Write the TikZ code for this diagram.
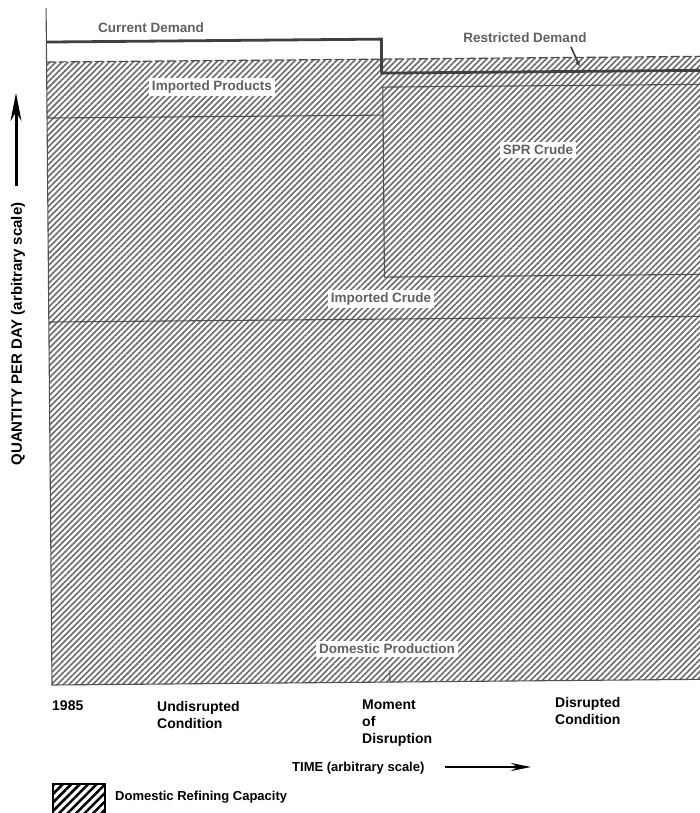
\documentclass[tikz,border=0pt]{standalone}
\usepackage{fontspec}
\setmainfont{Liberation Sans}
\usetikzlibrary{patterns.meta,arrows.meta}
\begin{document}
\begin{tikzpicture}[x=1pt,y=-1pt,
  lbl/.style={font=\bfseries\fontsize{13.5}{16}\selectfont, text=black!62, inner sep=3pt},
  inlbl/.style={lbl, fill=white},
  axlbl/.style={font=\bfseries\fontsize{14}{17}\selectfont, align=left, anchor=north west, inner sep=0pt},
  smlbl/.style={font=\bfseries\fontsize{13}{16}\selectfont, anchor=west, inner sep=0pt},
  edge/.style={line width=1.1pt, draw=black!68},
  demand/.style={line width=2.8pt, draw=black!75},
  hatch/.style={pattern={Lines[angle=45,distance=4.2pt,line width=1.6pt]}, pattern color=black!58}]
\clip (0,0) rectangle (700,813);
\fill[white] (0,0) rectangle (700,813);
\begin{scope}[rotate around={0.5:(52,685)}]
  \fill[hatch] (52,62) -- (720,62) -- (720,685) -- (52,685) -- cycle;
  \draw[line width=1.2pt, draw=black!70, dash pattern=on 9pt off 3pt] (52,62) -- (720,62);
  \draw[edge] (52,8) -- (52,685) -- (720,685);
  \draw[edge] (52,118) -- (388,118);
  \draw[edge] (720,90) -- (388,90) -- (388,280) -- (720,280);
  \draw[edge] (52,322) -- (720,322);
  \draw[edge] (390,673) -- (390,685);
  \draw[demand] (52,42) -- (387,42) -- (387,76) -- (720,76);
\end{scope}
% labels in the chart
\node[lbl] (cd) at (151,28) {Current Demand};
\node[inlbl] (ip) at (212,87) {Imported Products};
\node[lbl] (rd) at (525,38) {Restricted Demand};
\node[inlbl] (spr) at (538,150) {SPR Crude};
\node[inlbl] (ic) at (381,299) {Imported Crude};
\node[inlbl] (dp) at (387,649) {Domestic Production};
\coordinate (rdfrom) at (571,47);
\coordinate (rdtip) at (580,67);
\draw[line width=1.6pt, draw=black!75, -{Latex[length=6pt,width=5pt]}] (rdfrom) -- (rdtip);
% time axis labels
\node[axlbl] (y85) at (52,701) {1985};
\node[axlbl] (und) at (157,701) {Undisrupted\\Condition};
\node[axlbl] (mom) at (362,700) {Moment\\of\\Disruption};
\node[axlbl] (dis) at (555,697) {Disrupted\\Condition};
\node[smlbl] (time) at (292,768) {TIME (arbitrary scale)};
\coordinate (tstart) at (445,767);
\coordinate (tend) at (531,767);
\draw[line width=2.4pt, -{Stealth[length=20pt,width=8pt]}] (tstart) -- (tend);
% quantity axis
\node[font=\bfseries\fontsize{15}{18}\selectfont, rotate=90, inner sep=0pt] (ylab) at (18,334) {QUANTITY PER DAY (arbitrary scale)};
\coordinate (ystart) at (16,186);
\coordinate (yend) at (16,93);
\draw[line width=3pt, -{Stealth[length=28pt,width=11pt]}] (ystart) -- (yend);
% legend
\draw[line width=1.3pt, pattern={Lines[angle=45,distance=6pt,line width=2.6pt]}, pattern color=black] (53,784) rectangle (105,820);
\node[smlbl] (leg) at (115,797) {Domestic Refining Capacity};
\end{tikzpicture}
\end{document}
